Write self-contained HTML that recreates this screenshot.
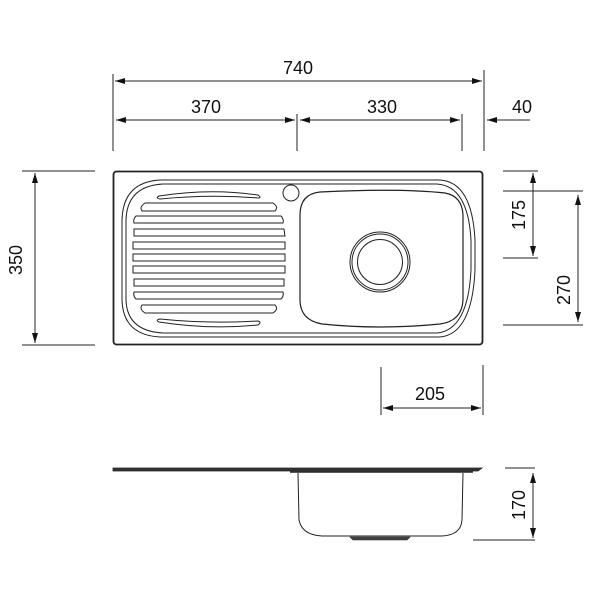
<!DOCTYPE html>
<html><head><style>body{margin:0;background:#fff}svg{display:block}text{font-family:"Liberation Sans Narrow","Liberation Sans",sans-serif;font-size:18px;fill:#111}</style></head>
<body>
<svg width="600" height="600" viewBox="0 0 600 600">
<defs>
<marker id="a" viewBox="0 0 10 6" refX="10" refY="3" markerWidth="10" markerHeight="6" orient="auto-start-reverse" markerUnits="userSpaceOnUse"><path d="M0,0L10,3L0,6z" fill="#111"/></marker>
</defs>
<g stroke="#222" stroke-width="1" fill="none">
<line x1="113" y1="74" x2="113" y2="151"/>
<line x1="484" y1="70" x2="484" y2="151"/>
<line x1="297" y1="114" x2="297" y2="151"/>
<line x1="462" y1="114" x2="462" y2="151"/>
<line x1="22" y1="171" x2="95" y2="171"/>
<line x1="22" y1="345" x2="95" y2="345"/>
<line x1="503" y1="171" x2="538" y2="171"/>
<line x1="503" y1="191" x2="583" y2="191"/>
<line x1="503" y1="258" x2="538" y2="258"/>
<line x1="503" y1="325" x2="583" y2="325"/>
<line x1="381" y1="367" x2="381" y2="415"/>
<line x1="483" y1="365" x2="483" y2="415"/>
<line x1="505" y1="468" x2="535" y2="468"/>
<line x1="473" y1="540" x2="535" y2="540"/>
<line x1="115" y1="81" x2="482" y2="81" marker-start="url(#a)" marker-end="url(#a)"/>
<line x1="116" y1="120" x2="295" y2="120" marker-start="url(#a)" marker-end="url(#a)"/>
<line x1="300" y1="120" x2="460" y2="120" marker-start="url(#a)" marker-end="url(#a)"/>
<line x1="530" y1="120" x2="487" y2="120" marker-end="url(#a)"/>
<line x1="35" y1="173" x2="35" y2="343" marker-start="url(#a)" marker-end="url(#a)"/>
<line x1="533" y1="173" x2="533" y2="256" marker-start="url(#a)" marker-end="url(#a)"/>
<line x1="578" y1="195" x2="578" y2="322" marker-start="url(#a)" marker-end="url(#a)"/>
<line x1="383" y1="408" x2="481" y2="408" marker-start="url(#a)" marker-end="url(#a)"/>
<line x1="533" y1="473" x2="533" y2="538" marker-start="url(#a)" marker-end="url(#a)"/>
</g>
<g stroke="#222" fill="none">
<rect x="113.5" y="171.5" width="369" height="173" rx="3" stroke-width="1.8"/>
<path d="M160,180 L440,180 Q472,182 475,240 L475,270 Q472,334 440,337 L160,337 Q123,335 122,300 L122,220 Q123,182 160,180Z" stroke-width="1"/>
<path d="M163,184 L437,184 Q468,186 471,240 L471,270 Q468,330 437,333 L163,333 Q127,331 126,300 L126,220 Q127,186 163,184Z" stroke-width="1"/>
<path d="M320,192 Q400,188 445,193 Q462,196 463,215 L463,300 Q462,321 440,324 Q380,330 322,324 Q300,320 300,300 L300,215 Q300,194 320,192Z" stroke-width="1.2"/>
<circle cx="380" cy="262" r="30" stroke-width="1"/>
<circle cx="380" cy="262" r="28" stroke-width="1"/>
<circle cx="380" cy="262" r="22.5" stroke-width="1"/>
<circle cx="291" cy="193" r="8" stroke-width="1"/>
<path d="M159,196 Q210,188 258,195 Q262,198 258,198 Q210,194 160,199 Q155,198 159,196Z" stroke-width="1"/>
<path d="M159,322 Q210,330 258,325 Q262,322 258,321 Q210,324 160,319 Q155,320 159,322Z" stroke-width="1"/>
<g stroke-width="1">
<path d="M145,203 L273,203 Q279,207 275,211 L142,211 Q139,207 145,203Z"/>
<path d="M136,216 L281,216 Q284,219 283,223 L134,223 Q133,219 136,216Z"/>
<path d="M134,229 L284,229 L285,236 L134,236 Z"/>
<path d="M133,242 L285,242 L285,249 L133,249 Z"/>
<path d="M133,254 L285,254 L285,261 L133,261 Z"/>
<path d="M133,266 L285,266 L285,273 L133,273 Z"/>
<path d="M134,279 L284,279 L284,286 L134,286 Z"/>
<path d="M134,292 L283,292 Q284,296 281,299 L136,299 Q133,296 134,292Z"/>
<path d="M142,305 L275,305 Q279,309 273,313 L145,313 Q139,309 142,305Z"/>
</g>
<path d="M113,468 L482,468 L478,471 L113,471 Z" fill="#333" stroke-width="0.8"/>
<line x1="290" y1="472" x2="473" y2="472" stroke-width="1.5"/>
<path d="M298,473 L299,520 Q302,535 322,536 L442,536 Q461,535 462,520 L463,473" stroke-width="1"/>
<path d="M350,537 L410,537 L407,540 L353,540 Z" fill="#444" stroke-width="0.6"/>
</g>
<text x="298" y="74" text-anchor="middle">740</text>
<text x="206" y="113" text-anchor="middle">370</text>
<text x="382" y="113" text-anchor="middle">330</text>
<text x="522" y="113" text-anchor="middle">40</text>
<text x="430" y="400" text-anchor="middle">205</text>
<text transform="translate(22,260) rotate(-90)" text-anchor="middle">350</text>
<text transform="translate(525,215) rotate(-90)" text-anchor="middle">175</text>
<text transform="translate(570,290) rotate(-90)" text-anchor="middle">270</text>
<text transform="translate(525,505) rotate(-90)" text-anchor="middle">170</text>
</svg>
</body></html>
